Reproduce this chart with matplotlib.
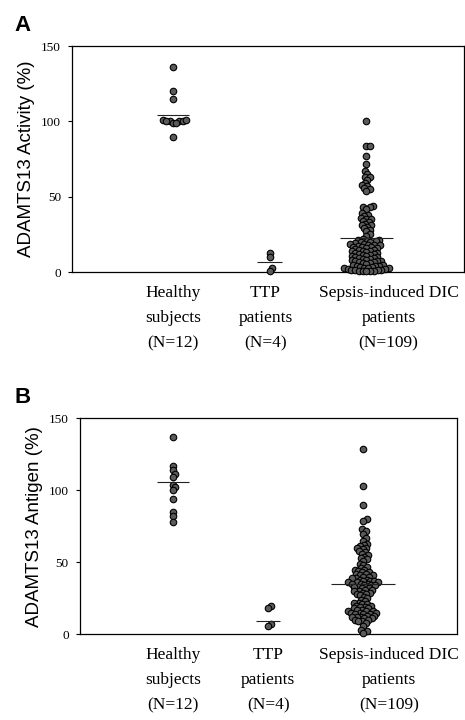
import numpy as np
import matplotlib
matplotlib.use("Agg")
from matplotlib import pyplot as plt

# group labels (x axis)
groups = ["Healthy\nsubjects\n(N=12)", "TTP\npatients\n(N=4)", "Sepsis-induced DIC\npatients\n(N=109)"]

# panel A: ADAMTS13 activity (%)
act_healthy = [136, 120, 115, 101, 100, 100, 100, 99, 100, 101, 99, 90]
act_ttp = [13, 10, 3, 1]
act_dic = [100, 84, 84, 77, 72, 67, 65, 63, 63, 61, 59, 58, 57, 56, 55, 54,
           44, 43, 43, 42, 39, 38, 37, 36, 35, 35, 34, 33, 32, 31, 31, 30, 29, 28, 27, 25, 24,
           22, 21.6, 21.2, 21, 20.5, 20.1, 19.8, 19.2, 19, 18.6, 18.3, 18.1, 17.7, 17.4,
           17, 16.8, 16.5, 16.2, 15.8, 15.3, 15, 14.6, 14.3, 14.1, 13.8, 13.2, 13, 12.6,
           12.3, 12, 11.7, 11.4, 11, 10.6, 10.1, 9.8, 9.5, 9.2, 9, 8.7, 8.2, 8, 7.6, 7.4,
           7.2, 6.9, 6.5, 6, 5.8, 5.3, 5, 4.7, 4.4, 4.2, 4, 3.6, 3.3, 3, 2.8, 2.6, 2.5,
           2.2, 2, 1.7, 1.5, 1.4, 1.2, 1, 0.8, 0.7, 0.6, 0.5]
act_means = [104, 7, 22.5]

# panel B: ADAMTS13 antigen (%)
ag_healthy = [137, 117, 114, 111, 109, 104, 102, 100, 94, 85, 82, 78]
ag_ttp = [19.5, 18, 7.5, 5.5]
ag_dic = [129, 103, 90, 80, 79, 73, 72, 70, 67, 65,
          63, 62, 61, 60, 60, 59, 58, 57, 56, 55, 54, 53, 52, 51,
          49, 48, 47, 46, 45, 45, 44, 43, 43, 42, 42, 41, 41, 40, 40, 39, 39, 38, 38,
          37, 37, 37, 36, 36, 36, 35, 35, 35, 34, 34, 34, 33, 33, 32, 32, 31, 31,
          30, 30, 29, 29, 28, 28, 27, 26,
          25, 24, 23, 22, 22, 21, 21, 20, 20, 19, 19, 18, 18, 17, 17, 16, 16, 16,
          15, 15, 15, 14, 14, 14, 13, 13, 12, 12, 12, 11, 11, 10, 10, 9, 9, 8,
          6, 3, 2, 1]
ag_means = [106, 9, 35]

yticks = [0, 50, 100, 150]

fig = plt.figure(figsize=(4.65, 7.2), dpi=100)
serif = "Liberation Serif"
sans = "Liberation Sans"


def swarm(ax, xc, vals, d):
    # simple beeswarm in pixel space, points may overlap a bit
    pts = ax.transData.transform(np.column_stack([np.full(len(vals), xc), vals]))
    ys = pts[:, 1]
    x0 = pts[0, 0]
    xs = np.zeros(len(vals))
    placed = []
    for i in np.argsort(ys, kind="stable"):
        y = ys[i]
        cands = [0.0]
        for px, py in placed:
            dy = y - py
            if abs(dy) < d:
                dx = np.sqrt(d * d - dy * dy)
                cands += [px + dx, px - dx]
        cands.sort(key=abs)
        for c in cands:
            if all((c - px) ** 2 + (y - py) ** 2 >= d * d - 1e-6 for px, py in placed):
                break
        placed.append((c, y))
        xs[i] = c
    back = ax.transData.inverted().transform(np.column_stack([x0 + xs, ys]))
    return back[:, 0]


def panel(rect, xlim, data, means, widths, label_x, ylabel, letter, letter_y):
    ax = fig.add_axes(rect)
    ax.set_xlim(*xlim)
    ax.set_ylim(0, 150)
    for sp in ax.spines.values():
        sp.set_linewidth(0.9)
    ax.set_yticks(yticks)
    ax.set_yticklabels([str(t) for t in yticks], fontfamily=serif, fontsize=9.5)
    ax.tick_params(axis="y", length=3, width=0.8, pad=5)
    ax.set_xticks([])
    for i, vals in enumerate(data):
        d = 3.5 if i == 0 else 3.8
        xs = swarm(ax, i, vals, d)
        ax.scatter(xs, vals, s=22, facecolor="#5a5a5a", edgecolor="black",
                   linewidth=0.8, zorder=3, clip_on=False)
        ax.hlines(means[i], i - widths[i] / 2, i + widths[i] / 2,
                  color="#222222", linewidth=0.8, zorder=4)
    for lx, g in zip(label_x, groups):
        ax.annotate(g, xy=(lx, 0), xycoords=("data", "axes fraction"),
                    xytext=(0, -9), textcoords="offset points",
                    ha="center", va="top", fontfamily=serif, fontsize=12.5,
                    linespacing=1.78, annotation_clip=False)
    ax.set_ylabel(ylabel, fontfamily=sans, fontsize=13.5, labelpad=4)
    fig.text(0.032, letter_y, letter, fontfamily=sans, fontsize=16,
             fontweight="bold", ha="left", va="center")
    return ax


panel([0.155, 0.622, 0.843, 0.314], (-1.04, 3.01),
      [act_healthy, act_ttp, act_dic], act_means, [0.33, 0.25, 0.55],
      [0, 0.96, 2.23], "ADAMTS13 Activity (%)", "A", 0.965)

panel([0.172, 0.119, 0.811, 0.300], (-0.98, 2.99),
      [ag_healthy, ag_ttp, ag_dic], ag_means, [0.33, 0.26, 0.68],
      [0, 1.0, 2.27], "ADAMTS13 Antigen (%)", "B", 0.448)

fig.savefig("out.png", dpi=100, facecolor="white")
